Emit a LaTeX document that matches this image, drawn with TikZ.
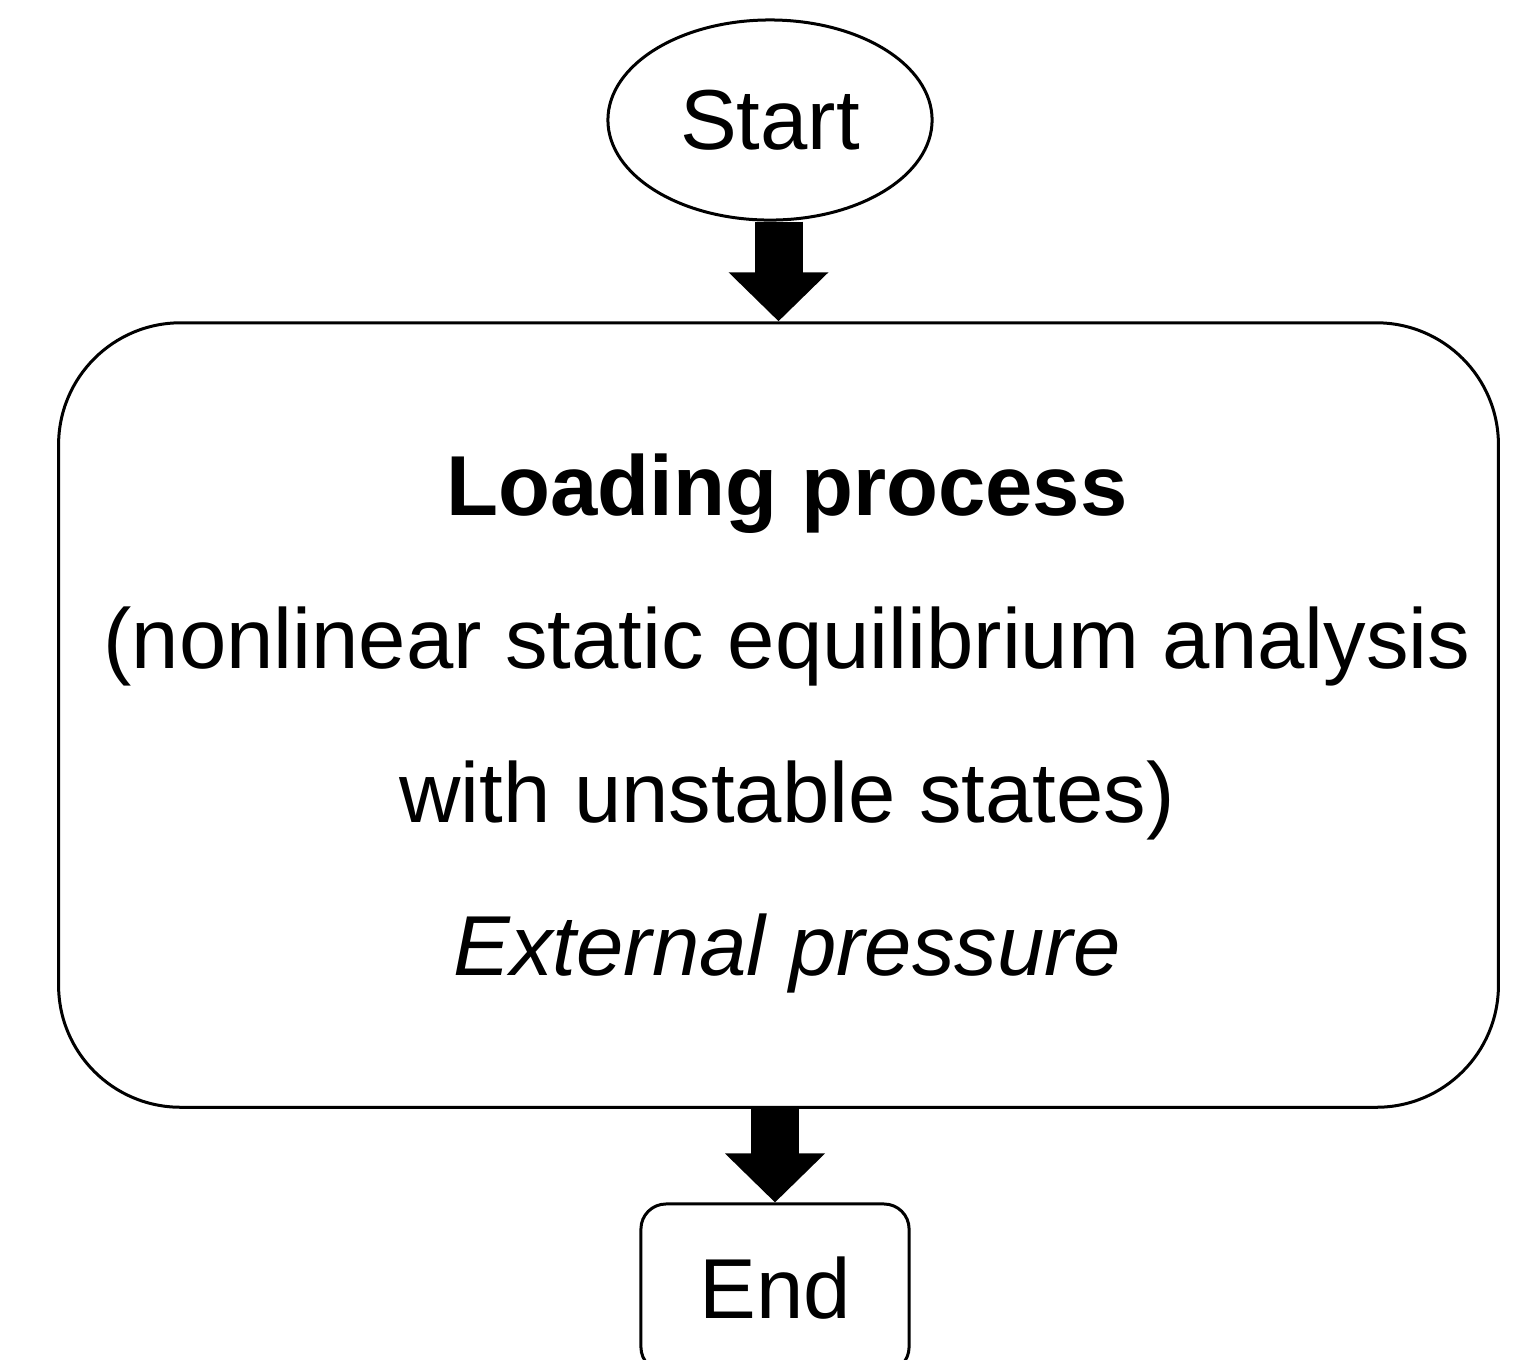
\documentclass[tikz,border=0pt]{standalone}
\usepackage{fontspec}
\setmainfont{Liberation Sans}
\usetikzlibrary{positioning,shapes.geometric,arrows.meta}

\begin{document}
\begin{tikzpicture}[x=0.01cm, y=-0.01cm,
	every node/.style={font=\fontsize{24.2}{29}\selectfont},
	termstyle/.style={ellipse, draw, line width=0.03cm, inner sep=0pt,
	minimum width=3.24cm, minimum height=2cm},
	procstyle/.style={rectangle, draw, line width=0.03cm, rounded corners=1.22cm,
	minimum width=14.39cm, minimum height=7.84cm},
	endstyle/.style={rectangle, draw, line width=0.03cm, rounded corners=0.25cm,
	minimum width=2.68cm, minimum height=1.68cm},
	lineof/.style={anchor=base, inner sep=0pt},
	bigarrow/.style={line width=0.48cm,
	-{Triangle[width=0.97cm, length=0.49cm]}}
	]
	\useasboundingbox (0,0) rectangle (1528,1359);
	\clip (0,0) rectangle (1528,1359);
	
	\node[termstyle] (start) at (770,120) {Start};
	\node[procstyle] (load) at (778.5,715) {};
	\node[endstyle] (fin) at (775,1288) {End};
	
	\node[lineof] (title) at (787,515) {\bfseries Loading process};
	\node[lineof] (desc1) at (787,668) {(nonlinear static equilibrium analysis};
	\node[lineof] (desc2) at (787,822) {with unstable states)};
	\node[lineof] (case) at (787,975) {\itshape External pressure};
	
	\draw[bigarrow] (start.south -| load.north) to (load.north);
	\draw[bigarrow] (load.south -| fin.north) to (fin.north);
\end{tikzpicture}
\end{document}
